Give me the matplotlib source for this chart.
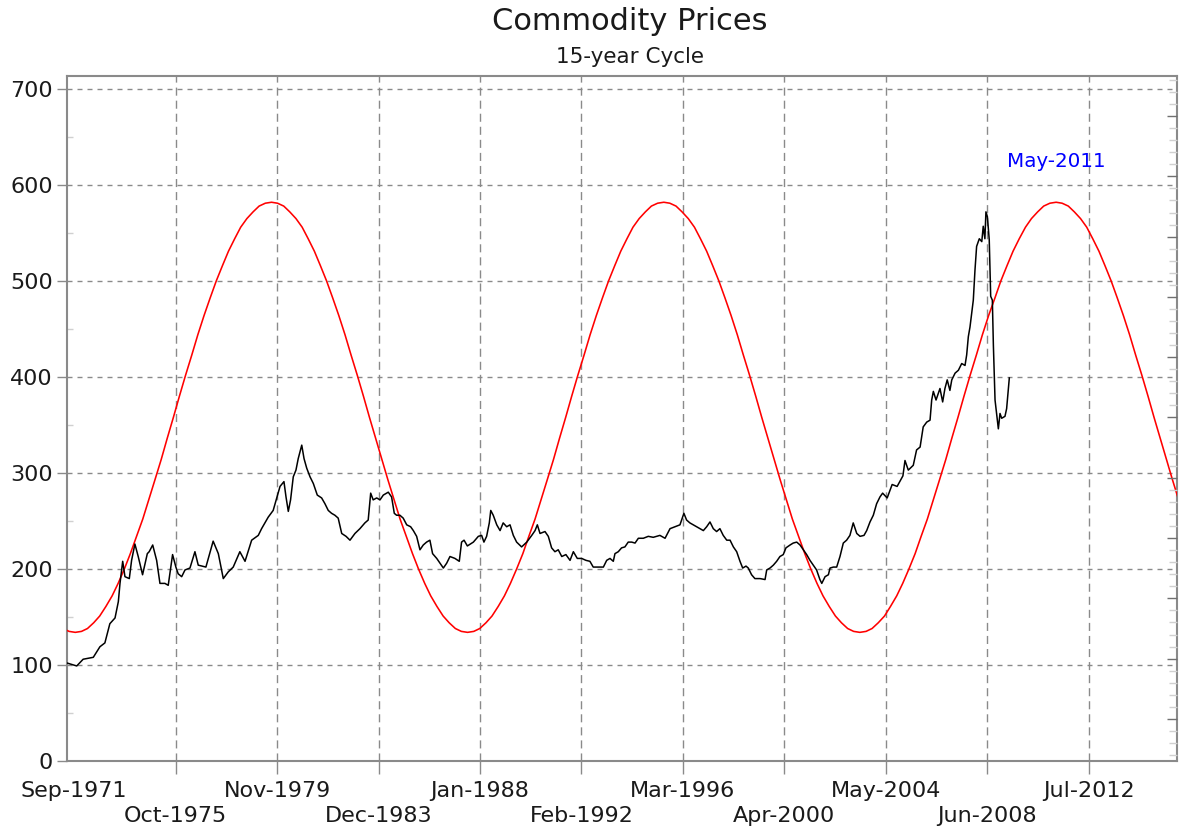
import matplotlib
matplotlib.use("Agg")
import matplotlib.pyplot as plt
from matplotlib.ticker import FixedLocator, MultipleLocator, NullFormatter

plt.rcParams['font.family'] = ['DejaVu Sans']
plt.rcParams['lines.scale_dashes'] = False

# ---------------- data ----------------
title = "Commodity Prices"
subtitle = "15-year Cycle"

# months counted from Sep-1971
tick_months = [0, 49, 98, 147, 196, 245, 294, 343, 392, 441, 490]
tick_labels = ["Sep-1971", "Oct-1975", "Nov-1979", "Dec-1983", "Jan-1988",
               "Feb-1992", "Mar-1996", "Apr-2000", "May-2004", "Jun-2008",
               "Jul-2012"]
y_ticks = [0, 100, 200, 300, 400, 500, 600, 700]

peak_label = "May-2011"
peak_label_month = 474.3
peak_label_value = 624

price_months = [
    -3.4, 1.2, 4.3, 9.2, 12.4, 14.8, 17.2, 19.7, 21.3, 22.1, 23.4, 24.5, 26.6,
    27.7, 29.3, 30.9, 33.0, 35.3, 36.2, 37.9, 39.8, 41.4, 43.8, 45.4, 47.5,
    49.1, 50.2, 51.9, 53.5, 55.9, 58.3, 59.9, 63.6, 67.1, 69.6, 72.0, 74.4,
    76.8, 80.0, 82.5, 85.7, 88.9, 90.5, 93.7, 96.1, 99.4, 101.3, 102.3, 103.4,
    104.5, 105.8, 107.1, 108.2, 109.9, 111.0, 112.3, 113.9, 115.5, 117.4,
    119.5, 121.1, 122.7, 124.3, 125.9, 127.5, 129.2, 131.3, 133.2, 135.6,
    138.0, 140.4, 142.0, 143.2, 144.4, 146.1, 147.7, 149.3, 151.7, 153.3,
    154.6, 155.7, 157.3, 158.9, 160.6, 162.5, 163.8, 165.4, 167.0, 168.6,
    170.2, 171.8, 173.1, 175.1, 176.7, 178.3, 179.9, 181.5, 183.9, 186.0,
    187.1, 188.3, 189.9, 192.8, 195.2, 196.8, 197.9, 199.2, 200.5, 201.2,
    202.4, 204.1, 205.7, 207.2, 208.9, 210.5, 212.1, 213.7, 216.1, 218.6,
    221.0, 222.6, 223.7, 225.0, 227.4, 229.0, 230.6, 232.2, 233.8, 235.5,
    237.5, 239.5, 241.1, 243.0, 245.1, 247.2, 249.1, 250.7, 253.1, 255.6,
    257.2, 258.8, 260.4, 261.2, 262.8, 264.4, 266.0, 267.6, 269.3, 270.9,
    272.5, 274.9, 277.3, 279.7, 282.9, 285.4, 287.8, 290.2, 292.6, 294.5,
    295.8, 297.4, 299.0, 300.7, 302.3, 303.9, 305.5, 307.1, 308.7, 310.3,
    311.9, 313.5, 315.2, 316.8, 318.4, 320.0, 321.6, 322.9, 324.5, 325.6,
    327.2, 328.8, 331.3, 333.7, 334.5, 336.1, 337.7, 339.3, 340.9, 342.5,
    343.8, 345.8, 347.3, 349.0, 350.6, 352.2, 353.8, 355.4, 357.0, 358.6,
    360.2, 361.1, 362.7, 364.3, 365.1, 366.7, 368.3, 369.9, 371.5, 373.1,
    374.7, 376.3, 378.0, 379.6, 381.5, 382.8, 384.4, 386.0, 387.6, 389.2,
    390.5, 392.7, 395.1, 397.5, 400.3, 401.3, 402.9, 405.3, 406.9, 408.6,
    410.1, 411.8, 413.4, 414.2, 415.0, 416.3, 417.4, 418.2, 419.5, 420.6,
    421.7, 423.0, 423.9, 425.5, 427.1, 428.7, 430.3, 431.1, 431.9, 432.7,
    433.5, 434.3, 435.1, 435.9, 437.2, 438.4, 439.1, 439.9, 440.4, 441.1,
    442.0, 442.7, 443.5, 444.0, 444.8, 445.9, 446.4, 447.2, 448.0, 449.6,
    450.4, 451.7]
price_values = [
    102, 99, 106, 108, 119, 123, 143, 149, 166, 185, 208, 192, 190,
    209, 226, 213, 194, 216, 218, 225, 209, 185, 185, 183, 215,
    202, 195, 192, 199, 201, 218, 204, 202, 229, 216, 190, 197,
    202, 218, 208, 230, 235, 242, 254, 261, 286, 291, 275, 260,
    272, 296, 303, 315, 329, 315, 305, 296, 289, 277,
    274, 268, 261, 258, 256, 253, 237, 234, 230, 237,
    242, 248, 251, 279, 272, 274, 272, 277, 280, 275,
    258, 256, 256, 253, 246, 244, 240, 234, 220, 225,
    228, 230, 216, 211, 206, 201, 206, 213, 211, 208,
    228, 230, 224, 228, 234, 235, 228, 234, 248, 261,
    256, 246, 240, 248, 244, 246, 235, 228, 223, 228,
    235, 240, 246, 237, 239, 234, 222, 218, 220, 213,
    215, 209, 218, 211, 211, 209, 208, 202, 202, 202,
    209, 211, 208, 216, 218, 222, 223, 228, 228, 227,
    232, 232, 234, 233, 235, 232, 242, 244, 246, 258,
    251, 248, 246, 244, 242, 240, 244, 249, 242, 239,
    242, 235, 230, 230, 223, 218, 208, 201, 203, 201,
    194, 190, 190, 189, 199, 201, 204, 208, 213, 215,
    222, 225, 227, 228, 225, 220, 215, 209, 204, 199,
    189, 185, 192, 194, 201, 202, 202, 213, 227, 230,
    235, 248, 237, 234, 235, 240, 249, 256, 268, 275,
    279, 274, 288, 286, 297, 313, 303, 308, 324, 327,
    348, 353, 355, 376, 385, 376, 383, 388, 374, 388,
    397, 386, 397, 404, 407, 414, 412, 423, 442, 452,
    466, 480, 511, 536, 544, 541, 557, 544, 572, 567,
    543, 484, 480, 433, 376, 355, 346, 362, 357, 359,
    367, 399]

cycle_months = [
    -5.4, -2.5, 0.5, 3.5, 6.4, 9.4, 12.3, 15.3, 18.3, 21.2, 24.2, 27.1, 30.1,
    33.1, 36.0, 39.0, 42.0, 44.9, 47.9, 50.8, 53.8, 56.8, 59.7, 62.7, 65.6,
    68.6, 71.6, 74.5, 77.5, 80.4, 83.4, 86.4, 89.3, 92.3, 95.3, 98.2, 101.2,
    104.1, 107.1, 110.1, 113.0, 116.0, 118.9, 121.9, 124.9, 127.8, 130.8,
    133.7, 136.7, 139.7, 142.6, 145.6, 148.6, 151.5, 154.5, 157.4, 160.4,
    163.4, 166.3, 169.3, 172.2, 175.2, 178.2, 181.1, 184.1, 187.0, 190.0,
    193.0, 195.9, 198.9, 201.8, 204.8, 207.8, 210.7, 213.7, 216.7, 219.6,
    222.6, 225.5, 228.5, 231.5, 234.4, 237.4, 240.3, 243.3, 246.3, 249.2,
    252.2, 255.1, 258.1, 261.1, 264.0, 267.0, 269.9, 272.9, 275.9, 278.8,
    281.8, 284.8, 287.7, 290.7, 293.6, 296.6, 299.6, 302.5, 305.5, 308.4,
    311.4, 314.4, 317.3, 320.3, 323.2, 326.2, 329.2, 332.1, 335.1, 338.1,
    341.0, 344.0, 346.9, 349.9, 352.9, 355.8, 358.8, 361.7, 364.7, 367.7,
    370.6, 373.6, 376.5, 379.5, 382.5, 385.4, 388.4, 391.4, 394.3, 397.3,
    400.2, 403.2, 406.2, 409.1, 412.1, 415.0, 418.0, 421.0, 423.9, 426.9,
    429.8, 432.8, 435.8, 438.7, 441.7, 444.7, 447.6, 450.6, 453.5, 456.5,
    459.5, 462.4, 465.4, 468.3, 471.3, 474.3, 477.2, 480.2, 483.1, 486.1,
    489.1, 492.0, 495.0, 497.9, 500.9, 503.9, 506.8, 509.8, 512.7, 515.7,
    518.7, 521.6, 524.6, 527.6, 530.5, 533.5]
cycle_values = [
    138, 135,
    134, 135, 138, 144, 151, 161, 172, 185, 200, 216, 234, 252, 272, 293, 314, 336,
    358, 380, 402, 423, 444, 464, 482, 500, 516, 531, 544, 556, 565, 572, 578, 581,
    582, 581, 578, 572, 565, 556, 544, 531, 516, 500, 482, 464, 444, 423, 402, 380,
    358, 336, 314, 293, 272, 252, 234, 216, 200, 185, 172, 161, 151, 144, 138, 135,
    134, 135, 138, 144, 151, 161, 172, 185, 200, 216, 234, 252, 272, 293, 314, 336,
    358, 380, 402, 423, 444, 464, 482, 500, 516, 531, 544, 556, 565, 572, 578, 581,
    582, 581, 578, 572, 565, 556, 544, 531, 516, 500, 482, 464, 444, 423, 402, 380,
    358, 336, 314, 293, 272, 252, 234, 216, 200, 185, 172, 161, 151, 144, 138, 135,
    134, 135, 138, 144, 151, 161, 172, 185, 200, 216, 234, 252, 272, 293, 314, 336,
    358, 380, 402, 423, 444, 464, 482, 500, 516, 531, 544, 556, 565, 572, 578, 581,
    582, 581, 578, 572, 565, 556, 544, 531, 516, 500, 482, 464, 444, 423, 402, 380,
    358, 336, 314, 293, 272]

# right-hand (cycle) axis tick positions, unlabeled
right_major = [43.8, 106.6, 169.4, 232.2, 295.0, 357.8, 420.6, 483.4, 546.2, 609.0, 671.8]

# ---------------- figure ----------------
W, H = 1183, 830
fig = plt.figure(figsize=(W / 100, H / 100), dpi=100)
fig.patch.set_facecolor('white')
L, R, B, T = 67, 1177, 761, 76
ax = fig.add_axes([L / W, 1 - B / H, (R - L) / W, (B - T) / H])
ax.set_xlim(-3.5, 532.7)
ax.set_ylim(0, 713.5)

grid_col = '#8a8a8a'
ax.set_yticks(y_ticks)
ax.set_yticklabels([str(v) for v in y_ticks])
ax.yaxis.set_minor_locator(MultipleLocator(50))
ax.set_xticks(tick_months)
ax.set_xticklabels([lbl if i % 2 == 0 else "\n" + lbl for i, lbl in enumerate(tick_labels)],
                   linespacing=1.3)

ax.grid(axis='y', which='major', color=grid_col, linestyle=(0, (3.6, 3.6)), linewidth=1.0)
ax.grid(axis='x', which='major', color=grid_col, linestyle=(0, (5.8, 3.6)), linewidth=1.0)
ax.xaxis.get_gridlines()[0].set_visible(False)
ax.xaxis.get_major_ticks()[0].tick1line.set_visible(False)

ax.tick_params(axis='x', which='major', direction='out', length=9.5, width=1.0,
               color=grid_col, pad=5, labelsize=16, labelcolor='#1a1a1a')
ax.tick_params(axis='y', which='major', direction='out', length=7.2, width=1.0,
               color=grid_col, pad=3, labelsize=16, labelcolor='#1a1a1a')
ax.tick_params(axis='y', which='minor', direction='in', length=4.5, width=1.0,
               color='#d0d0d0')

for sp in ax.spines.values():
    sp.set_color('#8a8a8a')
    sp.set_linewidth(1.5)

ax.plot(cycle_months, cycle_values, color='#ff0000', linewidth=1.15, zorder=3)
ax.plot(price_months, price_values, color='black', linewidth=1.1, zorder=4)

ax.text(peak_label_month, peak_label_value, peak_label, color='#0000ff',
        fontsize=14.3, ha='center', va='center')

ax2 = ax.twinx()
ax2.set_ylim(ax.get_ylim())
ax2.set_yticks(right_major)
ax2.yaxis.set_major_formatter(NullFormatter())
ax2.yaxis.set_minor_locator(FixedLocator(
    [v + d for v in right_major + [734.6] for d in (-50.24, -37.68, -25.12, -12.56)
     if 0 < v + d < 713.5]))
ax2.tick_params(axis='y', which='major', direction='in', length=7.2, width=1.0,
                color='#707070')
ax2.tick_params(axis='y', which='minor', direction='in', length=5.5, width=1.0,
                color='#d0d0d0')
for sp in ax2.spines.values():
    sp.set_visible(False)

fig.text(630 / W, 1 - 22 / H, title, ha='center', va='center', fontsize=22, color='#1a1a1a')
fig.text(630 / W, 1 - 57 / H, subtitle, ha='center', va='center', fontsize=15.5, color='#1a1a1a')

fig.savefig('out.png', dpi=100, facecolor='white')
